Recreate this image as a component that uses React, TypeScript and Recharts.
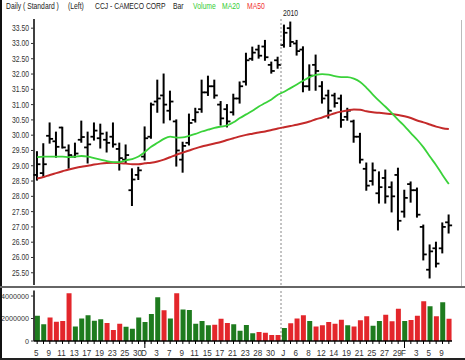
import React from 'react';
import { ComposedChart, Bar, Line, XAxis, YAxis, ReferenceLine, Cell } from 'recharts';

const dates = [
  '11-05','11-06','11-09','11-10','11-11','11-12','11-13','11-16','11-17','11-18','11-19','11-20','11-23','11-24','11-25','11-27','11-30',
  '12-01','12-02','12-03','12-04','12-07','12-08','12-09','12-10','12-11','12-14','12-15','12-16','12-17','12-18','12-21','12-22','12-23','12-24','12-28','12-29','12-30','12-31',
  '01-04','01-05','01-06','01-07','01-08','01-11','01-12','01-13','01-14','01-15','01-19','01-20','01-21','01-22','01-25','01-26','01-27','01-28','01-29',
  '02-01','02-02','02-03','02-04','02-05','02-08','02-09','02-10',
];

const tickLabels = [
  '5','','9','','11','','13','','17','','19','','23','','25','','30',
  'D','','3','','7','','9','','11','','15','','17','','21','','23','','28','','30','',
  'J','','6','','8','','12','','14','','19','','21','','25','','27','','29',
  'F','','3','','5','','9','',
];

const opens = [28.7,28.76,29.98,29.8,30.25,29.5,29.3,29.85,29.6,29.95,29.9,29.85,29.95,29.55,29.2,28.2,28.7,29.3,29.95,31.1,31.3,30.8,30.45,29.2,29.75,30.5,30.85,31.4,31.6,31.0,30.85,30.75,31.2,31.75,32.5,32.8,32.9,32.3,32.45,32.95,33.5,33.0,32.8,31.6,32.3,31.6,31.3,31.3,31.2,30.6,30.45,29.95,28.9,28.5,28.1,28.6,28.3,28.7,27.5,28.4,28.2,27.0,25.6,26.3,26.3,27.15];
const highs = [29.46,29.72,30.4,30.1,30.26,29.68,29.74,30.46,30.1,30.4,30.36,30.1,30.4,29.74,29.68,28.9,28.95,30.27,31.05,31.8,32.0,31.44,30.5,29.77,30.69,30.88,31.8,31.93,31.8,31.1,31.0,31.34,31.74,32.68,32.88,32.94,33.1,32.39,32.55,33.6,33.7,33.1,32.89,32.3,32.62,31.75,31.47,31.37,31.31,30.88,30.49,30.06,29.09,29.09,28.8,28.86,28.47,28.92,28.2,28.47,28.27,27.06,26.41,26.5,27.13,27.39];
const lows = [28.53,28.63,29.74,29.28,29.58,28.92,29.28,29.77,29.09,29.84,29.58,29.45,29.61,28.86,29.09,27.7,28.55,29.19,29.9,30.75,30.4,30.5,28.99,28.79,29.68,30.43,30.75,31.3,31.21,30.33,30.27,30.66,31.05,31.64,32.45,32.52,32.45,32.03,32.19,32.88,32.9,32.62,31.42,31.47,31.47,31.05,30.56,30.92,30.26,30.49,29.77,29.09,28.2,28.37,27.78,27.78,27.49,26.9,27.32,27.81,27.32,25.92,25.33,25.69,26.15,26.8];
const closes = [29.05,29.05,29.88,29.62,29.6,29.35,29.4,29.94,29.7,30.15,30.05,29.75,29.7,29.25,29.35,28.55,28.85,29.9,31.0,31.2,31.0,31.1,29.5,29.65,30.4,30.75,31.4,31.6,31.3,30.55,30.45,31.2,31.6,32.45,32.7,32.6,32.55,32.1,32.3,33.35,33.05,32.75,31.6,31.95,32.1,31.2,30.8,31.05,30.5,30.8,29.95,29.2,28.35,28.85,28.3,28.0,28.0,27.2,27.95,28.2,27.4,26.1,26.2,25.8,27.0,27.05];

const ma20 = [29.28,29.3,29.3,29.3,29.3,29.28,29.3,29.32,29.3,29.25,29.2,29.15,29.12,29.12,29.18,29.22,29.3,29.45,29.62,29.75,29.88,29.95,29.92,29.93,29.98,30.04,30.12,30.18,30.24,30.28,30.32,30.42,30.56,30.68,30.8,30.94,31.05,31.17,31.32,31.42,31.54,31.66,31.78,31.9,31.97,32.0,31.98,31.93,31.9,31.9,31.85,31.74,31.55,31.33,31.12,30.93,30.72,30.5,30.3,30.07,29.85,29.6,29.3,29.02,28.7,28.4];
const ma50 = [28.58,28.63,28.7,28.76,28.82,28.88,28.93,28.97,29.0,29.04,29.07,29.09,29.1,29.09,29.07,29.05,29.05,29.08,29.1,29.14,29.2,29.28,29.36,29.43,29.5,29.57,29.63,29.68,29.73,29.78,29.84,29.9,29.96,30.01,30.05,30.09,30.12,30.17,30.22,30.26,30.3,30.34,30.39,30.45,30.52,30.58,30.65,30.72,30.77,30.81,30.84,30.83,30.78,30.75,30.73,30.71,30.69,30.66,30.62,30.56,30.48,30.42,30.35,30.28,30.23,30.2];

const volumes = [2250000,1480000,2100000,1720000,1780000,4240000,1300000,2000000,2280000,1800000,1930000,1600000,980000,1540000,1270000,1100000,2100000,1690000,2400000,3880000,2730000,2000000,4240000,2800000,2760000,1540000,1780000,1400000,1450000,1980000,1600000,1480000,920000,1420000,680000,800000,740000,530000,530000,1160000,1570000,2000000,2280000,1780000,1300000,1400000,1700000,1540000,1900000,1400000,1300000,1840000,2200000,1360000,1780000,2340000,1750000,2870000,1780000,1870000,2250000,3530000,3100000,2200000,3440000,1980000];

const priceTicks = [25.5,26,26.5,27,27.5,28,28.5,29,29.5,30,30.5,31,31.5,32,32.5,33,33.5];
const volumeTicks = [0,2000000,4000000];

const GREEN_VOL = '#1e7b1e';
const RED_VOL = '#e3262b';
const MA20_COLOR = '#3ad23a';
const MA50_COLOR = '#c42a2a';
const FONT = '"Liberation Sans", Arial, sans-serif';

const data = dates.map((d, i) => ({
  d,
  lbl: tickLabels[i],
  o: opens[i],
  h: highs[i],
  l: lows[i],
  c: closes[i],
  range: [lows[i], highs[i]],
  ma20: ma20[i],
  ma50: ma50[i],
  v: volumes[i],
  up: closes[i] >= opens[i],
}));

const labelOf: Record<string, string> = {};
dates.forEach((d, i) => { labelOf[d] = tickLabels[i]; });

const OhlcShape = (props: any) => {
  const { x, y, width, height, payload } = props;
  if (x == null || y == null || height == null || !payload) return null;
  const top = Math.min(y, y + height);
  const h = Math.abs(height);
  const cx = x + width / 2;
  const span = payload.h - payload.l || 1;
  const yo = top + ((payload.h - payload.o) / span) * h;
  const yc = top + ((payload.h - payload.c) / span) * h;
  return (
    <g>
      <line x1={cx} x2={cx} y1={top - 0.5} y2={top + h + 0.5} stroke="#000" strokeWidth={2} />
      <line x1={cx - 3.5} x2={cx} y1={yo} y2={yo} stroke="#000" strokeWidth={1.8} />
      <line x1={cx} x2={cx + 3.5} y1={yc} y2={yc} stroke="#000" strokeWidth={1.8} />
    </g>
  );
};

const PriceTick = (props: any) => {
  const { x, y, payload } = props;
  return (
    <text transform={`translate(${x},${y}) scale(0.8,1)`} x={0} y={0} dy="0.35em" textAnchor="end" fontSize={8.5} fill="#333" fontFamily={FONT}>
      {Number(payload.value).toFixed(2)}
    </text>
  );
};

const VolTick = (props: any) => {
  const { x, y, payload } = props;
  return (
    <text transform={`translate(${x},${y}) scale(0.9,1)`} x={0} y={0} dy="0.35em" textAnchor="end" fontSize={8} fill="#333" fontFamily={FONT}>
      {String(payload.value)}
    </text>
  );
};

const DateTick = (props: any) => {
  const { x, y, payload } = props;
  const lbl = labelOf[payload.value] || '';
  const monthStart = lbl === 'D' || lbl === 'F';
  return (
    <g>
      {monthStart && <line x1={x} x2={x} y1={y - 5} y2={y + 2} stroke="#000" strokeWidth={1} />}
      {lbl && (
        <text transform={`translate(${x - 1},${y + 10}) scale(0.9,1)`} x={0} y={0} textAnchor="middle" fontSize={9} fill="#333" fontFamily={FONT}>
          {lbl}
        </text>
      )}
    </g>
  );
};

const TitleText = ({ x, y, fill, children }: { x: number; y: number; fill: string; children: string }) => (
  <text transform={`translate(${x},${y}) scale(0.8,1)`} x={0} y={0} fill={fill} fontFamily={FONT} fontSize={8.5}>
    {children}
  </text>
);

const MARGIN_RIGHT = 13;

export default function App() {
  return (
    <div style={{ position: 'absolute', left: 0, top: 0, width: 465, height: 360, background: '#fff', overflow: 'hidden' }}>
      <div style={{ position: 'absolute', left: 0, top: 0 }}>
        <ComposedChart width={465} height={288} data={data} margin={{ top: 19, right: MARGIN_RIGHT, bottom: 3, left: 0 }} barCategoryGap="15%">
          <XAxis dataKey="d" type="category" hide />
          <YAxis
            yAxisId="p"
            domain={[25.1, 33.8]}
            ticks={priceTicks}
            interval={0}
            width={34}
            tickSize={3}
            tickMargin={2}
            tick={<PriceTick />}
            axisLine={{ stroke: '#000', strokeWidth: 1.5 }}
            tickLine={{ stroke: '#333' }}
            allowDataOverflow
          />
          <ReferenceLine yAxisId="p" x="01-04" position="start" stroke="#888" strokeDasharray="2 2" strokeWidth={1} />
          <Line yAxisId="p" dataKey="ma50" stroke={MA50_COLOR} strokeWidth={2} dot={false} isAnimationActive={false} type="monotone" />
          <Line yAxisId="p" dataKey="ma20" stroke={MA20_COLOR} strokeWidth={1.8} dot={false} isAnimationActive={false} type="monotone" />
          <Bar yAxisId="p" dataKey="range" shape={(p: any) => <OhlcShape {...p} />} isAnimationActive={false} />
        </ComposedChart>
      </div>
      <div style={{ position: 'absolute', left: 0, top: 288 }}>
        <ComposedChart width={465} height={72} data={data} margin={{ top: 2.4, right: MARGIN_RIGHT, bottom: 0, left: 0 }} barCategoryGap="14%">
          <XAxis
            dataKey="d"
            type="category"
            interval={0}
            tickSize={3}
            tickMargin={2}
            tick={<DateTick />}
            axisLine={{ stroke: '#000', strokeWidth: 1.5 }}
            tickLine={{ stroke: '#000' }}
            height={19}
          />
          <YAxis
            domain={[0, 4500000]}
            ticks={volumeTicks}
            interval={0}
            width={34}
            tickSize={3}
            tickMargin={2}
            tick={<VolTick />}
            axisLine={{ stroke: '#000', strokeWidth: 1.5 }}
            tickLine={{ stroke: '#333' }}
            allowDataOverflow
          />
          <ReferenceLine x="01-04" position="start" stroke="#888" strokeDasharray="2 2" strokeWidth={1} />
          <Bar dataKey="v" isAnimationActive={false}>
            {data.map((e, i) => (
              <Cell key={i} fill={e.up ? GREEN_VOL : RED_VOL} />
            ))}
          </Bar>
        </ComposedChart>
      </div>
      <svg width={465} height={360} style={{ position: 'absolute', left: 0, top: 0, pointerEvents: 'none' }}>
        <rect x={0} y={0} width={2} height={360} fill="#111" />
        <rect x={0} y={286} width={465} height={2} fill="#666" />
        <rect x={0} y={358} width={465} height={2} fill="#222" />
        <line x1={461.5} x2={461.5} y1={20} y2={286} stroke="#bbb" strokeWidth={1} />
        <TitleText x={6} y={9} fill="#222">Daily ( Standard )</TitleText>
        <TitleText x={68} y={9} fill="#222">(Left)</TitleText>
        <TitleText x={95} y={9} fill="#222">CCJ - CAMECO CORP</TitleText>
        <TitleText x={173} y={9} fill="#222">Bar</TitleText>
        <TitleText x={193} y={9} fill="#33cc33">Volume</TitleText>
        <TitleText x={222} y={9} fill="#33cc33">MA20</TitleText>
        <TitleText x={247} y={9} fill="#f03030">MA50</TitleText>
        <TitleText x={283} y={16} fill="#222">2010</TitleText>
      </svg>
    </div>
  );
}
